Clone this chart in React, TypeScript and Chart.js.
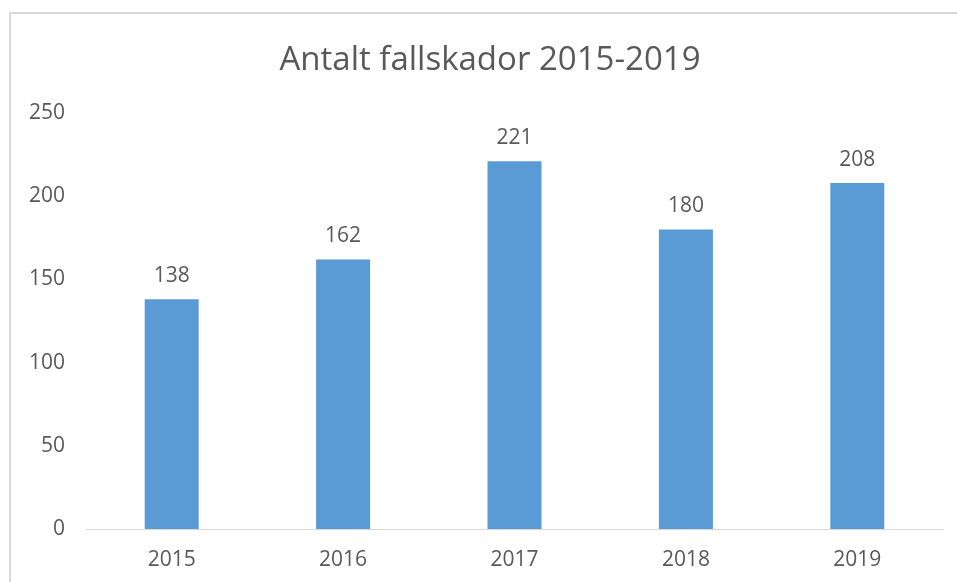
import React, { useEffect, useRef } from "react";
import { Chart, registerables } from "chart.js";

Chart.register(...registerables);

const categories: string[] = ["2015", "2016", "2017", "2018", "2019"];
const values: number[] = [138, 162, 221, 180, 208];
const titleText = "Antalt fallskador 2015-2019";
const yMin = 0;
const yMax = 250;
const yStep = 50;

const FONT = "'Open Sans', 'Noto Sans', sans-serif";
const TEXT = "#595959";

export default function App() {
  const ref = useRef<HTMLCanvasElement | null>(null);

  useEffect(() => {
    if (!ref.current) return;
    const labelPlugin = {
      id: "barLabels",
      afterDatasetsDraw(chart: any) {
        const ctx = chart.ctx;
        const meta = chart.getDatasetMeta(0);
        ctx.save();
        ctx.font = `21px ${FONT}`;
        ctx.fillStyle = TEXT;
        ctx.textAlign = "center";
        ctx.textBaseline = "alphabetic";
        meta.data.forEach((el: any, i: number) => {
          ctx.fillText(String(values[i]), el.x, el.y - 17);
        });
        ctx.restore();
      },
    };
    const titlePlugin = {
      id: "customTitle",
      afterDraw(chart: any) {
        const ctx = chart.ctx;
        ctx.save();
        ctx.font = `33px ${FONT}`;
        ctx.fillStyle = TEXT;
        ctx.textAlign = "center";
        ctx.textBaseline = "alphabetic";
        ctx.fillText(titleText, 490, 70);
        ctx.restore();
      },
    };
    const chart = new Chart(ref.current, {
      type: "bar",
      data: {
        labels: categories,
        datasets: [
          {
            data: values,
            backgroundColor: "#5B9BD5",
            borderWidth: 0,
            barPercentage: 0.315,
            categoryPercentage: 1,
          },
        ],
      },
      options: {
        animation: false,
        responsive: false,
        maintainAspectRatio: false,
        layout: { padding: { left: 0, right: 14, top: 113, bottom: 0 } },
        plugins: {
          legend: { display: false },
          title: { display: false },
          tooltip: { enabled: false },
        },
        scales: {
          x: {
            grid: { display: false, drawTicks: false },
            border: { display: true, color: "#d9d9d9", width: 1 },
            ticks: { color: TEXT, font: { family: FONT, size: 21 }, padding: 18 },
            afterFit(scale: any) {
              scale.height = 53;
            },
          },
          y: {
            min: yMin,
            max: yMax,
            grid: { display: false, drawTicks: false },
            border: { display: false },
            ticks: {
              stepSize: yStep,
              color: TEXT,
              font: { family: FONT, size: 21 },
              padding: 21,
            },
            afterFit(scale: any) {
              scale.width = 86;
            },
          },
        },
      },
      plugins: [labelPlugin, titlePlugin],
    });
    return () => chart.destroy();
  }, []);

  return (
    <div
      style={{
        position: "fixed",
        left: 0,
        top: 0,
        width: 957,
        height: 582,
        overflow: "hidden",
        background: "#ffffff",
      }}
    >
      <div
        style={{
          position: "absolute",
          left: 9,
          top: 12,
          width: 1000,
          height: 1000,
          border: "2px solid #d9d9d9",
          boxSizing: "border-box",
        }}
      />
      <canvas
        ref={ref}
        width={957}
        height={582}
        style={{ position: "absolute", left: 0, top: 0, width: 957, height: 582 }}
      />
    </div>
  );
}
